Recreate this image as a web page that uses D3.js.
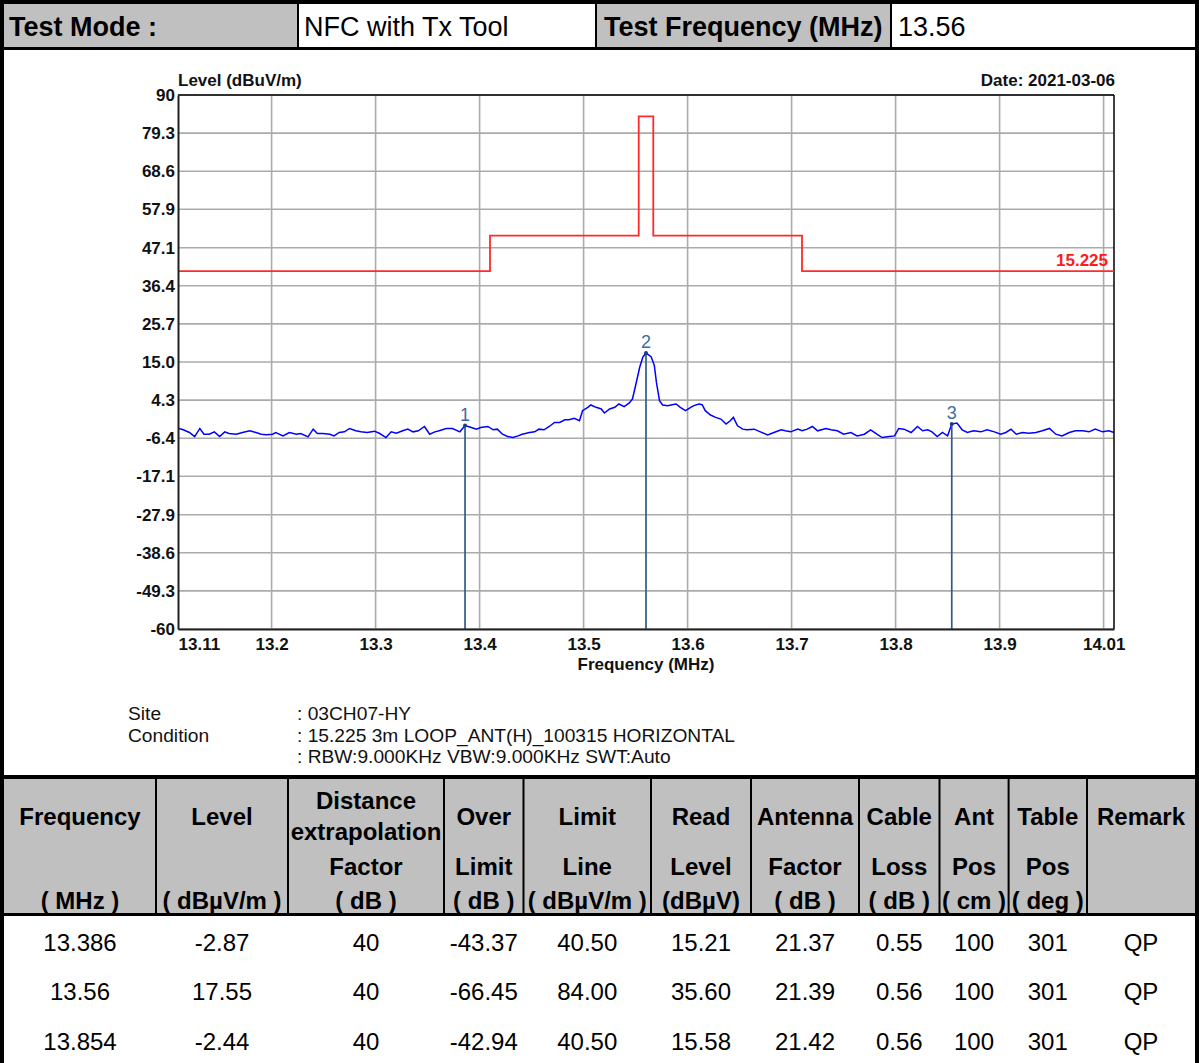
<!DOCTYPE html>
<html>
<head>
<meta charset="utf-8">
<script src="https://d3js.org/d3.v7.min.js"></script>
<style>
  body{margin:0;background:#fff;}
  svg{display:block;font-family:"Liberation Sans",Arial,sans-serif;}
  .chart text{font-weight:bold;font-size:17px;fill:#111;}
  .note{font-family:"Liberation Sans",Arial,sans-serif;font-size:19.2px;fill:#111;}
</style>
</head>
<body>
<script>

// ---- data ----
var testMode = "NFC with Tx Tool";
var testFreq = "13.56";

var yTicks = [90, 79.3, 68.6, 57.9, 47.1, 36.4, 25.7, 15.0, 4.3, -6.4, -17.1, -27.9, -38.6, -49.3, -60];
var yTickLabels = ["90","79.3","68.6","57.9","47.1","36.4","25.7","15.0","4.3","-6.4","-17.1","-27.9","-38.6","-49.3","-60"];
var xGrid = [13.2, 13.3, 13.4, 13.5, 13.6, 13.7, 13.8, 13.9, 14.0];
var xTicks = [13.11, 13.2, 13.3, 13.4, 13.5, 13.6, 13.7, 13.8, 13.9, 14.01];
var xTickLabels = ["13.11","13.2","13.3","13.4","13.5","13.6","13.7","13.8","13.9","14.01"];

// FCC 15.225 limit steps
var limitEdges = [13.11, 13.41, 13.553, 13.567, 13.71, 14.01];
var limitLevels = [40.5, 50.5, 84, 50.5, 40.5];

// measured trace (MHz, dBuV/m)
var traceFreq = [13.111,13.115,13.121,13.126,13.131,13.135,13.140,13.145,13.150,13.155,13.159,13.166,13.172,13.179,13.185,13.190,13.195,13.201,13.204,13.211,13.217,13.224,13.228,13.235,13.240,13.244,13.249,13.256,13.260,13.265,13.270,13.275,13.281,13.286,13.292,13.299,13.304,13.310,13.315,13.320,13.326,13.331,13.336,13.341,13.347,13.352,13.357,13.361,13.368,13.374,13.381,13.386,13.392,13.397,13.401,13.408,13.413,13.417,13.422,13.427,13.432,13.437,13.441,13.448,13.453,13.457,13.462,13.467,13.472,13.477,13.482,13.486,13.491,13.496,13.499,13.504,13.507,13.512,13.517,13.520,13.525,13.530,13.534,13.539,13.544,13.547,13.550,13.554,13.557,13.560,13.565,13.568,13.570,13.573,13.576,13.581,13.585,13.589,13.593,13.598,13.603,13.606,13.611,13.614,13.617,13.622,13.627,13.632,13.637,13.641,13.644,13.648,13.653,13.657,13.664,13.670,13.677,13.683,13.690,13.694,13.699,13.706,13.710,13.715,13.720,13.725,13.733,13.738,13.744,13.750,13.757,13.763,13.770,13.776,13.782,13.787,13.794,13.799,13.803,13.808,13.815,13.821,13.826,13.831,13.835,13.840,13.845,13.850,13.854,13.859,13.864,13.869,13.875,13.882,13.888,13.895,13.901,13.906,13.911,13.916,13.922,13.928,13.935,13.941,13.948,13.954,13.960,13.967,13.973,13.980,13.986,13.992,13.999,14.005,14.010];
var traceLevel = [-3.67,-4.05,-4.80,-5.94,-3.67,-5.28,-5.28,-4.62,-5.94,-4.62,-5.09,-5.28,-4.80,-4.33,-4.80,-5.28,-5.46,-5.28,-4.80,-5.75,-4.80,-5.28,-5.09,-6.03,-3.86,-5.09,-5.09,-5.28,-5.75,-4.80,-4.62,-3.67,-4.33,-4.62,-4.80,-4.43,-5.09,-6.22,-4.62,-4.99,-4.33,-3.86,-4.62,-4.33,-3.11,-5.28,-4.62,-4.33,-3.67,-3.67,-4.62,-2.87,-3.39,-3.86,-3.39,-3.11,-4.05,-3.86,-5.28,-5.94,-6.22,-5.75,-5.28,-4.80,-4.62,-3.86,-4.05,-3.11,-1.98,-1.98,-1.22,-1.22,-0.84,-1.50,1.33,2.27,2.93,2.27,1.80,0.67,1.80,2.27,3.21,2.46,3.49,4.63,8.40,13.58,16.41,17.55,16.41,14.06,9.34,4.16,2.93,2.74,3.02,3.21,2.27,1.33,2.27,2.74,3.21,3.02,1.33,0.10,-0.56,-1.03,-2.45,-1.50,-0.56,-2.92,-3.86,-4.05,-3.86,-4.62,-5.46,-4.80,-4.05,-4.33,-4.62,-3.86,-4.33,-3.86,-3.11,-4.33,-3.67,-4.05,-4.33,-5.28,-4.80,-5.75,-5.28,-4.05,-5.28,-6.22,-5.94,-5.75,-3.67,-3.86,-4.80,-3.11,-4.33,-4.05,-4.62,-5.94,-4.80,-5.75,-2.44,-2.16,-4.05,-4.80,-4.33,-4.62,-4.05,-4.62,-5.28,-4.80,-3.86,-5.28,-4.80,-4.99,-4.80,-4.33,-3.67,-5.28,-5.75,-4.80,-4.33,-4.33,-4.62,-3.86,-4.62,-4.33,-4.80];

var markerFreq = [13.386, 13.56, 13.854];
var markerLevel = [-2.87, 17.55, -2.44];

var siteLabels = ["Site", "Condition", ""];
var siteValues = [": 03CH07-HY", ": 15.225 3m LOOP_ANT(H)_100315 HORIZONTAL", ": RBW:9.000KHz VBW:9.000KHz SWT:Auto"];

var head1 = ["Frequency","Level","","Over","Limit","Read","Antenna","Cable","Ant","Table","Remark"];
var head2 = ["","","Factor","Limit","Line","Level","Factor","Loss","Pos","Pos",""];
var head3 = ["( MHz )","( dBµV/m )","( dB )","( dB )","( dBµV/m )","(dBµV)","( dB )","( dB )","( cm )","( deg )",""];

var colFreq = ["13.386","13.56","13.854"];
var colLevel = ["-2.87","17.55","-2.44"];
var colDist = ["40","40","40"];
var colOver = ["-43.37","-66.45","-42.94"];
var colLimit = ["40.50","84.00","40.50"];
var colRead = ["15.21","35.60","15.58"];
var colAnt = ["21.37","21.39","21.42"];
var colCable = ["0.55","0.56","0.56"];
var colAntPos = ["100","100","100"];
var colTablePos = ["301","301","301"];
var colRemark = ["QP","QP","QP"];

// ---- drawing ----
var W = 1199, H = 1063;
var svg = d3.select("body").append("svg").attr("width", W).attr("height", H);
svg.append("rect").attr("width", W).attr("height", H).attr("fill", "#fff");

// top info row
var rowCells = [[4,298,"#c0c0c0"],[298,596,"#fff"],[596,891,"#c0c0c0"],[891,1195,"#fff"]];
svg.selectAll("rect.cell").data(rowCells).enter().append("rect")
   .attr("x", function(d){return d[0]}).attr("y", 4)
   .attr("width", function(d){return d[1]-d[0]}).attr("height", 43)
   .attr("fill", function(d){return d[2]});
var topTexts = [["Test Mode :",9,"bold"],[testMode,304,"normal"],["Test Frequency (MHz)",604,"bold"],[testFreq,898,"normal"]];
svg.selectAll("text.top").data(topTexts).enter().append("text")
   .attr("x", function(d){return d[1]}).attr("y", 36)
   .attr("font-size", 27).attr("font-weight", function(d){return d[2]})
   .text(function(d){return d[0]});

// table header background
var colX = [4,156,288,444,523.5,651,751,859,939.5,1008.6,1087,1195];
svg.append("rect").attr("x", 4).attr("y", 779).attr("width", 1191).attr("height", 134).attr("fill", "#c0c0c0");

// frame lines
var blk = [[0,0,W,4],[0,0,4,H],[1195,0,4,H],[0,47,W,3],[0,775,W,4],[0,913,W,3]];
svg.selectAll("rect.blk").data(blk).enter().append("rect")
   .attr("x", function(d){return d[0]}).attr("y", function(d){return d[1]})
   .attr("width", function(d){return d[2]}).attr("height", function(d){return d[3]})
   .attr("fill", "#000");
[298,596,891].forEach(function(x){
  svg.append("rect").attr("x", x-1).attr("y", 4).attr("width", 2).attr("height", 44).attr("fill", "#000");
});
colX.slice(1, -1).forEach(function(x){
  svg.append("rect").attr("x", x-1).attr("y", 779).attr("width", 2).attr("height", 135).attr("fill", "#000");
});

// ---- chart ----
var plot = {left: 178, right: 1114, top: 95, bottom: 629};
var x = d3.scaleLinear().domain([13.11, 14.01]).range([plot.left, plot.right]);
var y = d3.scaleLinear().domain([-60, 90]).range([plot.bottom, plot.top]);
var chart = svg.append("g").classed("chart", true);

chart.selectAll("line.hg").data(yTicks).enter().append("line")
     .attr("x1", plot.left).attr("x2", plot.right)
     .attr("y1", function(d){return y(d)}).attr("y2", function(d){return y(d)})
     .attr("stroke", "#ababab").attr("stroke-width", 1.6);
chart.selectAll("line.vg").data(xGrid).enter().append("line")
     .attr("x1", function(d){return x(d)}).attr("x2", function(d){return x(d)})
     .attr("y1", plot.top).attr("y2", plot.bottom)
     .attr("stroke", "#ababab").attr("stroke-width", 1.6);

// frame
chart.append("line").attr("x1", plot.left).attr("x2", plot.right).attr("y1", plot.top).attr("y2", plot.top)
     .attr("stroke", "#000").attr("stroke-width", 1.5);
chart.append("line").attr("x1", plot.right).attr("x2", plot.right).attr("y1", plot.top).attr("y2", plot.bottom)
     .attr("stroke", "#000").attr("stroke-width", 1.5);

// limit line
var limitPts = limitLevels.map(function(v, i){return [limitEdges[i], v]});
limitPts.push([limitEdges[limitEdges.length-1], limitLevels[limitLevels.length-1]]);
chart.append("path").datum(limitPts)
     .attr("d", d3.line().curve(d3.curveStepAfter).x(function(d){return x(d[0])}).y(function(d){return y(d[1])}))
     .attr("fill", "none").attr("stroke", "#ff2a2a").attr("stroke-width", 1.8);
chart.append("text").attr("x", 1108).attr("y", 266).attr("text-anchor", "end")
     .style("fill", "#ff1a1a").text("15.225");

// trace
var tracePts = traceFreq.map(function(f, i){return [f, traceLevel[i]]});
chart.append("path").datum(tracePts)
     .attr("d", d3.line().x(function(d){return x(d[0])}).y(function(d){return y(d[1])}))
     .attr("fill", "none").attr("stroke", "#0000ff").attr("stroke-width", 1.5);

// markers
var markers = markerFreq.map(function(f, i){return {f: f, v: markerLevel[i], n: i+1}});
var mk = chart.selectAll("g.mk").data(markers).enter().append("g");
mk.append("line")
  .attr("x1", function(d){return x(d.f)}).attr("x2", function(d){return x(d.f)})
  .attr("y1", function(d){return y(d.v)}).attr("y2", plot.bottom)
  .attr("stroke", "#2f5b88").attr("stroke-width", 1.7);
mk.append("circle").attr("cx", function(d){return x(d.f)}).attr("cy", function(d){return y(d.v)})
  .attr("r", 2).attr("fill", "#1c3f80");
mk.append("text").attr("x", function(d){return x(d.f)}).attr("y", function(d){return y(d.v) - 5})
  .attr("text-anchor", "middle").style("font-weight", "normal").style("fill", "#3c6ca3")
  .style("font-size", "18px")
  .text(function(d){return d.n});

// axes
var yAxis = d3.axisLeft(y).tickValues(yTicks).tickSize(0).tickPadding(3)
              .tickFormat(function(d, i){return yTickLabels[i]});
var ya = chart.append("g").attr("transform", "translate(" + plot.left + ",0)").call(yAxis);
ya.select(".domain").attr("stroke", "#222").attr("stroke-width", 2);

var xAxis = d3.axisBottom(x).tickValues(xTicks).tickSize(0).tickPadding(9)
              .tickFormat(function(d, i){return xTickLabels[i]});
var xa = chart.append("g").attr("transform", "translate(0," + plot.bottom + ")").call(xAxis);
xa.select(".domain").attr("stroke", "#222").attr("stroke-width", 2);
xa.selectAll("text")
  .attr("text-anchor", function(d, i){return i === 0 ? "start" : (i === xTicks.length-1 ? "end" : "middle")})
  .attr("dx", function(d, i){return i === xTicks.length-1 ? 11 : 0});
ya.attr("font-size", null).attr("font-family", null);
xa.attr("font-size", null).attr("font-family", null);

chart.append("text").attr("x", plot.left).attr("y", 86).text("Level (dBuV/m)");
chart.append("text").attr("x", plot.right + 1).attr("y", 86).attr("text-anchor", "end").text("Date: 2021-03-06");
chart.append("text").attr("x", x(13.56)).attr("y", 670).attr("text-anchor", "middle").text("Frequency (MHz)");

// site notes
siteLabels.forEach(function(s, i){
  if (s) svg.append("text").classed("note", true).attr("x", 128).attr("y", 720 + i*21.5).text(s);
  svg.append("text").classed("note", true).attr("x", 297).attr("y", 720 + i*21.5).text(siteValues[i]);
});

// ---- table ----
var colCenter = d3.range(colX.length-1).map(function(i){return (colX[i]+colX[i+1])/2});
var th = svg.append("g").attr("font-size", 24).attr("font-weight", "bold").attr("text-anchor", "middle");
[[head1, 825], [head2, 875], [head3, 909]].forEach(function(r){
  th.selectAll(null).data(r[0]).enter().append("text")
    .attr("x", function(d, i){return colCenter[i]}).attr("y", r[1])
    .text(function(d){return d});
});
th.append("text").attr("x", colCenter[2]).attr("y", 809).text("Distance");
th.append("text").attr("x", colCenter[2]).attr("y", 840).text("extrapolation");

var cols = [colFreq,colLevel,colDist,colOver,colLimit,colRead,colAnt,colCable,colAntPos,colTablePos,colRemark];
var rowY = [951, 1000, 1050];
var tb = svg.append("g").attr("font-size", 24).attr("text-anchor", "middle");
cols.forEach(function(c, ci){
  tb.selectAll(null).data(c).enter().append("text")
    .attr("x", colCenter[ci]).attr("y", function(d, ri){return rowY[ri]})
    .text(function(d){return d});
});

</script>
</body>
</html>
